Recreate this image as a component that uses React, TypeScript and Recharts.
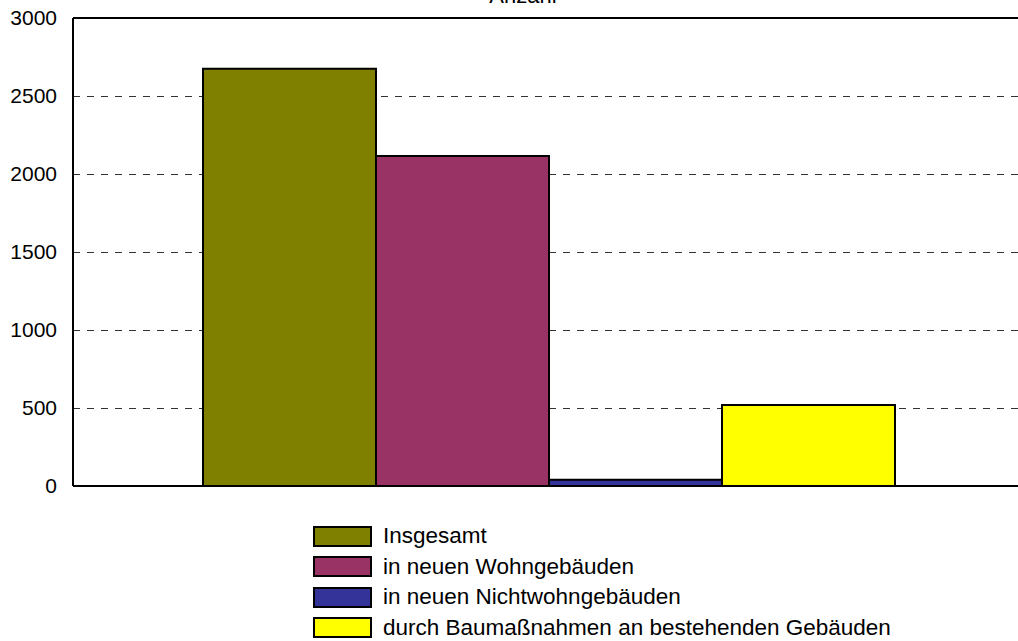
import { BarChart, Bar, XAxis, YAxis, CartesianGrid, ReferenceLine, Legend } from "recharts";

const categories = [""];
const seriesNames = [
  "Insgesamt",
  "in neuen Wohngebäuden",
  "in neuen Nichtwohngebäuden",
  "durch Baumaßnahmen an bestehenden Gebäuden",
];
const insgesamt = [2675];
const wohngebaeude = [2115];
const nichtwohngebaeude = [40];
const baumassnahmen = [520];
const yTicks = [0, 500, 1000, 1500, 2000, 2500, 3000];

const colors = ["#808000", "#993366", "#333399", "#FFFF00"];
const keys = ["s0", "s1", "s2", "s3"];

const data = categories.map((name, i) => ({
  name,
  s0: insgesamt[i],
  s1: wohngebaeude[i],
  s2: nichtwohngebaeude[i],
  s3: baumassnahmen[i],
}));

const font = "'Liberation Sans', Arial, sans-serif";

function LegendBox() {
  return (
    <div style={{ fontFamily: font, fontSize: 22.5, color: "#000" }}>
      {seriesNames.map((n, i) => (
        <div key={n} style={{ display: "flex", alignItems: "center", height: 30.5, lineHeight: "30px" }}>
          <div
            style={{
              width: 55,
              height: 17,
              background: colors[i],
              border: "2px solid #000",
              marginRight: 11,
              flexShrink: 0,
            }}
          />
          <span style={{ whiteSpace: "nowrap" }}>{n}</span>
        </div>
      ))}
    </div>
  );
}

export default function App() {
  return (
    <div style={{ position: "absolute", left: 0, top: 0, width: 1018, height: 641, overflow: "hidden" }}>
      <BarChart
        width={1025}
        height={641}
        data={data}
        barGap={0}
        margin={{ top: 18, right: 0, left: 0, bottom: 155 }}
        style={{ overflow: "visible" }}
      >
        <text x={523} y={3} textAnchor="middle" fontFamily={font} fontSize={22} fill="#000">
          Anzahl
        </text>
        <CartesianGrid vertical={false} stroke="#333" strokeDasharray="7 7" shapeRendering="crispEdges" />
        <XAxis dataKey="name" hide />
        <YAxis
          width={73}
          domain={[0, 3000]}
          ticks={yTicks}
          tickLine={false}
          tickSize={0}
          tickMargin={16}
          axisLine={{ stroke: "#000", strokeWidth: 2 }}
          tick={{ fill: "#000", fontSize: 21, fontFamily: font }}
        />
        <Legend
          layout="horizontal"
          verticalAlign="middle"
          align="center"
          content={() => <LegendBox />}
          wrapperStyle={{ position: "absolute", left: 313, top: 521, width: 700 }}
        />
        {keys.map((k, i) => (
          <Bar
            key={k}
            dataKey={k}
            name={seriesNames[i]}
            fill={colors[i]}
            stroke="#000"
            strokeWidth={2}
            barSize={173}
            isAnimationActive={false}
          />
        ))}
        <ReferenceLine y={3000} stroke="#000" strokeWidth={2} />
        <ReferenceLine y={0} stroke="#000" strokeWidth={2} />
      </BarChart>
    </div>
  );
}
